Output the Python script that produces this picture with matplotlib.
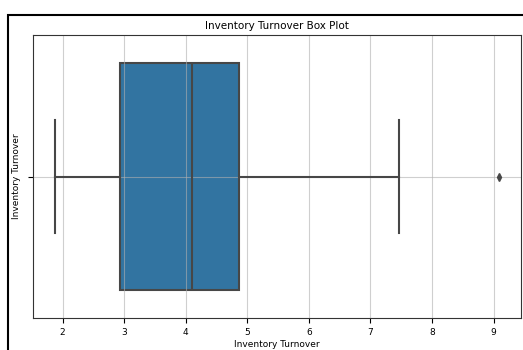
import matplotlib.pyplot as plt
from matplotlib.patches import Rectangle

# Box plot statistics
q1 = 2.94
median = 4.11
q3 = 4.87
whisker_low = 1.88
whisker_high = 7.47
outliers = [9.08]

x_ticks = [2, 3, 4, 5, 6, 7, 8, 9]


def main():
    fig = plt.figure(figsize=(5.23, 3.5), dpi=100)
    ax = fig.add_axes([0.0631, 0.0914, 0.9325, 0.8086])

    # Frame around the figure (cropped on right and bottom)
    fig.patches.append(Rectangle((7.5 / 523, -0.2), 1.2, 1.2 - 15 / 350,
                                 transform=fig.transFigure, fill=False,
                                 edgecolor="black", linewidth=1.5))

    gray = "#474747"
    stats = [{"med": median, "q1": q1, "q3": q3,
              "whislo": whisker_low, "whishi": whisker_high,
              "fliers": outliers}]
    bp = ax.bxp(stats, positions=[0], widths=0.8, vert=False, patch_artist=True,
                boxprops=dict(facecolor="#3274a1", edgecolor=gray, linewidth=1.5),
                medianprops=dict(color=gray, linewidth=1.5),
                whiskerprops=dict(color=gray, linewidth=1.5),
                capprops=dict(color=gray, linewidth=1.5),
                flierprops=dict(marker="d", markerfacecolor=gray, markeredgecolor=gray,
                                markersize=4),
                capwidths=0.4)
    for box in bp["boxes"]:
        box.set_zorder(1)

    ax.set_ylim(0.5, -0.5)
    span = outliers[0] - whisker_low
    ax.set_xlim(whisker_low - 0.05 * span, outliers[0] + 0.05 * span)
    ax.set_xticks(x_ticks)
    ax.set_yticks([0])
    ax.set_yticklabels([""])
    ax.tick_params(labelsize=6.5)
    ax.grid(True, color="#b0b0b0", alpha=0.6)
    for s in ax.spines.values():
        s.set_color("#333333")

    ax.set_title("Inventory Turnover Box Plot", fontsize=7.5, pad=4)
    ax.set_xlabel("Inventory Turnover", fontsize=6.5, labelpad=2)
    ax.set_ylabel("Inventory Turnover", fontsize=6.5, labelpad=2)

    plt.savefig("out.png", dpi=100)


if __name__ == "__main__":
    main()
